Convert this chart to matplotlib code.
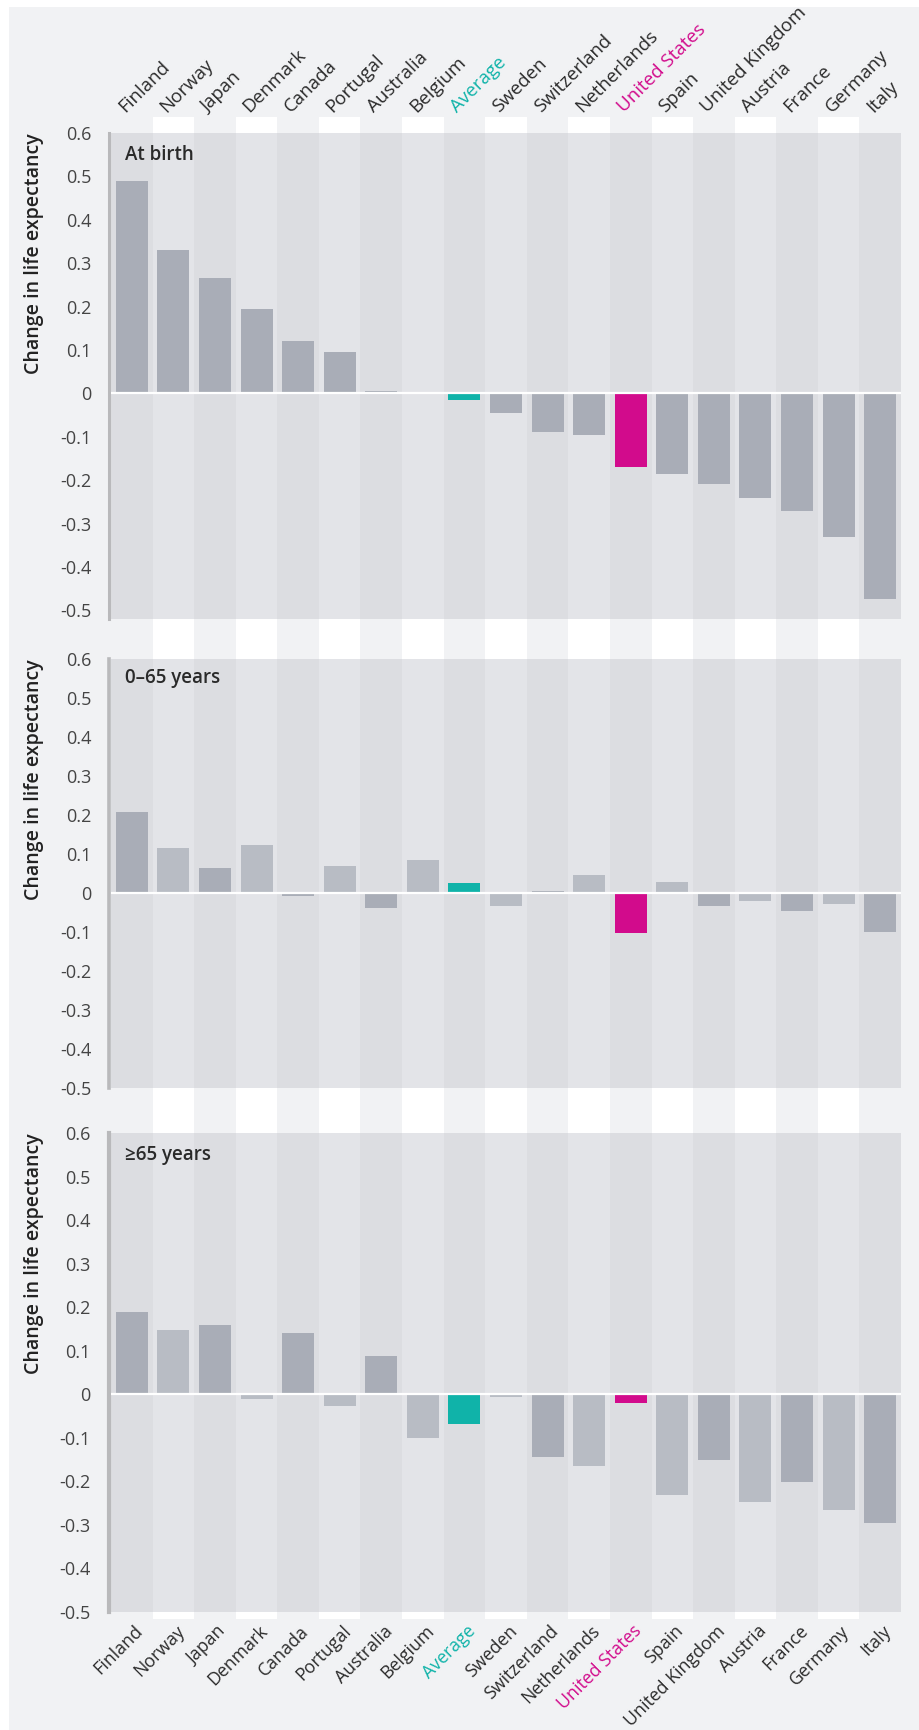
import matplotlib
matplotlib.use("Agg")
import matplotlib.pyplot as plt
import matplotlib.transforms as mtransforms
from matplotlib.patches import Rectangle

W, H = 919, 1730

countries = ["Finland", "Norway", "Japan", "Denmark", "Canada", "Portugal",
             "Australia", "Belgium", "Average", "Sweden", "Switzerland",
             "Netherlands", "United States", "Spain", "United Kingdom",
             "Austria", "France", "Germany", "Italy"]

at_birth = [0.49, 0.33, 0.265, 0.195, 0.12, 0.095, 0.006, 0.0, -0.015,
            -0.045, -0.09, -0.095, -0.17, -0.185, -0.21, -0.24, -0.27,
            -0.33, -0.475]
age_0_65 = [0.207, 0.115, 0.064, 0.123, -0.008, 0.07, -0.039, 0.084, 0.025,
            -0.034, 0.006, 0.047, -0.103, 0.028, -0.034, -0.02, -0.045,
            -0.028, -0.1]
age_65 = [0.19, 0.147, 0.158, -0.01, 0.14, -0.028, 0.087, -0.101, -0.068,
          -0.007, -0.144, -0.164, -0.02, -0.232, -0.152, -0.248, -0.202,
          -0.265, -0.295]

# dark = True -> darker grey bar
dark_birth = [True] * 19
dark_0_65 = [i % 2 == 0 for i in range(19)]
dark_65 = [i % 2 == 0 for i in range(19)]

titles = ["At birth", "0\u201365 years", "\u226565 years"]
yticks = [0.6, 0.5, 0.4, 0.3, 0.2, 0.1, 0.0, -0.1, -0.2, -0.3, -0.4, -0.5]
ytick_labels = ["0.6", "0.5", "0.4", "0.3", "0.2", "0.1", "0",
                "-0.1", "-0.2", "-0.3", "-0.4", "-0.5"]

BG = "#f1f2f4"
COL_DARK = "#dcdde1"
COL_LIGHT = "#e3e4e8"
BAR_DARK = "#a9adb7"
BAR_LIGHT = "#b8bcc4"
TEAL = "#10b3a9"
PINK = "#d20b8c"
TXT = "#2b2b2b"
FONT = "Open Sans"


def fx(px):
    return px / W


def fy(py):
    return 1 - py / H


fig = plt.figure(figsize=(W / 100, H / 100), dpi=100, facecolor="white")
fig.patches.append(Rectangle((fx(9), 0), 1 - fx(9), fy(7), transform=fig.transFigure,
                             facecolor=BG, edgecolor="none", zorder=-10))

x0, x1 = 111, 901
n = len(countries)
xs = list(range(n))

# white column bands running through the gaps between panels
bg = fig.add_axes([fx(x0), fy(1619), fx(x1 - x0), (1619 - 117) / H])
bg.set_xlim(-0.5, n - 0.5)
bg.set_ylim(0, 1)
bg.axis("off")
for i in xs:
    if i % 2 == 1:
        bg.axvspan(i - 0.5, i + 0.5, color="white", lw=0)

panels = [
    (133, 619, -0.52, at_birth, dark_birth, 2.2),
    (659, 1088, -0.5, age_0_65, dark_0_65, 2.6),
    (1133, 1612, -0.5, age_65, dark_65, 3.0),
]

axes = []
for k, (top, bot, ymin, vals, dark, spw) in enumerate(panels):
    ax = fig.add_axes([fx(x0), fy(bot), fx(x1 - x0), (bot - top) / H])
    axes.append(ax)
    ax.set_xlim(-0.5, n - 0.5)
    ax.set_ylim(ymin, 0.6)
    ax.set_facecolor("none")
    for i in xs:
        ax.axvspan(i - 0.5, i + 0.5, color=COL_DARK if i % 2 == 0 else COL_LIGHT,
                   lw=0, zorder=0)
    colors = []
    for c, d in zip(countries, dark):
        if c == "Average":
            colors.append(TEAL)
        elif c == "United States":
            colors.append(PINK)
        else:
            colors.append(BAR_DARK if d else BAR_LIGHT)
    ax.bar(xs, vals, width=0.77, color=colors, zorder=2, linewidth=0)
    ax.axhline(0, color="white", lw=1.6, zorder=3)

    for s in ["top", "right", "bottom"]:
        ax.spines[s].set_visible(False)
    ax.spines["left"].set_color("#b9b9bb")
    ax.spines["left"].set_linewidth(spw)
    ax.spines["left"].set_position(("outward", spw / 2))
    ax.set_xticks([])
    ax.set_yticks(yticks)
    ax.set_yticklabels(ytick_labels, fontsize=13, color="#444444", family=FONT)
    ax.tick_params(axis="y", length=0, pad=13)

    ax.text(-0.098, 1.0, "Change in life expectancy", transform=ax.transAxes,
            rotation=90, ha="center", va="top", fontsize=14, fontweight="semibold",
            color="#222222", family=FONT)
    ax.text(0.018, 0.955, titles[k], transform=ax.transAxes, ha="left", va="center",
            fontsize=13.5, fontweight="semibold", color="#2a2a2a", family=FONT)


def label_color(c):
    if c == "Average":
        return TEAL
    if c == "United States":
        return PINK
    return TXT


# country names above the first panel and below the last one
top_tr = mtransforms.offset_copy(
    mtransforms.blended_transform_factory(axes[0].transData, fig.transFigure),
    fig=fig, x=-7, y=0, units="dots")
bot_tr = mtransforms.offset_copy(
    mtransforms.blended_transform_factory(axes[2].transData, fig.transFigure),
    fig=fig, x=2, y=0, units="dots")
for i, c in enumerate(countries):
    fig.text(i, fy(113), c, transform=top_tr, rotation=45, rotation_mode="anchor",
             ha="left", va="baseline", fontsize=13.5, color=label_color(c), family=FONT)
    fig.text(i, fy(1622), c, transform=bot_tr, rotation=45, rotation_mode="anchor",
             ha="right", va="top", fontsize=12.8, color=label_color(c), family=FONT)

fig.savefig("out.png", dpi=100, facecolor="white")
